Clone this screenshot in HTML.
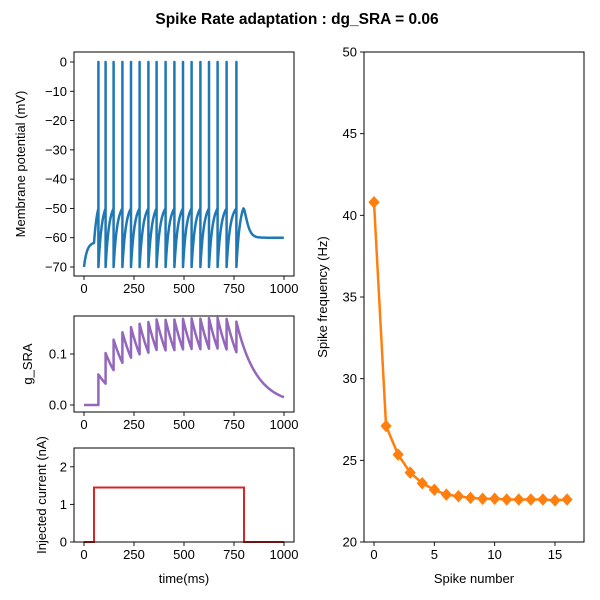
<!DOCTYPE html>
<html><head><meta charset="utf-8"><style>
html,body{margin:0;padding:0;background:#fff;}
svg{display:block;font-family:"Liberation Sans","DejaVu Sans",sans-serif;}
</style></head><body>
<svg id="fig" width="600" height="600" viewBox="0 0 600 600" xmlns="http://www.w3.org/2000/svg">
<rect width="600" height="600" fill="#fff"/>
<text x="297" y="24" text-anchor="middle" font-size="15.5" font-weight="bold">Spike Rate adaptation : dg_SRA = 0.06</text>
<g id="g1"></g>
<g id="g2"></g>
<g id="g3"></g>
<g id="g4"></g>
</svg>
<script>
// data
const spikeTimes = [72,108,148,192,235,278,322,363,408,452,495,538,582,625,668,713,762];
const currentOn = 50, currentOff = 800, currentAmp = 1.45;
const gIncrement = 0.06, gTau = 100;
const spikeNumbers = [0,1,2,3,4,5,6,7,8,9,10,11,12,13,14,15,16];
const spikeFreq = [40.8,27.1,25.35,24.25,23.6,23.2,22.9,22.8,22.7,22.65,22.65,22.6,22.6,22.6,22.6,22.55,22.6];
const xTicksTime = [0,250,500,750,1000];
const vTicks = [0,-10,-20,-30,-40,-50,-60,-70];
const gTicks = [0.0,0.1];
const iTicks = [0,1,2];
const fTicks = [20,25,30,35,40,45,50];
const nTicks = [0,5,10,15];

const NS="http://www.w3.org/2000/svg";
function el(parent,tag,attrs){const e=document.createElementNS(NS,tag);for(const k in attrs)e.setAttribute(k,attrs[k]);parent.appendChild(e);return e;}
function lin(d0,d1,r0,r1){return v=>r0+(v-d0)*(r1-r0)/(d1-d0);}

function axesFrame(g,x0,y0,x1,y1,name){
  const r=el(g,'rect',{x:x0,y:y0,width:x1-x0,height:y1-y0,fill:'none',stroke:'#000','stroke-width':1});
  
  
}
function xTicks(g,ticks,sx,yb,name,fmt){
  ticks.forEach(t=>{
    const x=sx(t);
    const l=el(g,'line',{x1:x,x2:x,y1:yb,y2:yb+4,stroke:'#000','stroke-width':0.9});
    
    
    const tx=el(g,'text',{x:x,y:yb+17,'text-anchor':'middle','font-size':13});
    tx.textContent=fmt?fmt(t):t;
    
    
  });
}
function yTicks(g,ticks,sy,xl,name,fmt){
  ticks.forEach(t=>{
    const y=sy(t);
    const l=el(g,'line',{x1:xl-4,x2:xl,y1:y,y2:y,stroke:'#000','stroke-width':0.9});
    
    
    const tx=el(g,'text',{x:xl-7,y:y+4.5,'text-anchor':'end','font-size':13});
    tx.textContent=fmt?fmt(t):String(t).replace('-','\u2212');
    
    
  });
}
function yTitle(g,text,x,y,name){
  const t=el(g,'text',{x:x,y:y,'text-anchor':'middle','font-size':13,transform:`rotate(-90 ${x} ${y})`});
  t.textContent=text;
  
  
}

// Panel 1: membrane potential
(function(){
  const g=document.getElementById('g1');
  const sx=lin(0,1000,84,284), sy=lin(0,-70,62,267);
  const pts=[];
  const tauR=18;
  for(let t=0;t<=currentOn;t+=2) pts.push([t,-70+8.5*(1-Math.exp(-t/15))]);
  let prev=currentOn, vStart=pts[pts.length-1][1];
  spikeTimes.forEach((ts,i)=>{
    const isi=ts-prev;
    for(let t=prev;t<=ts;t+=1){
      const f=(1-Math.exp(-(t-prev)/tauR))/(1-Math.exp(-isi/tauR));
      pts.push([t,vStart+(-50-vStart)*f]);
    }
    pts.push([ts,0]);pts.push([ts,-70]);
    prev=ts; vStart=-70;
  });
  const peakT=currentOff-3;
  for(let t=prev;t<=peakT;t+=1){
    const f=(1-Math.exp(-(t-prev)/tauR))/(1-Math.exp(-(peakT-prev)/tauR));
    pts.push([t,-70+20*f]);
  }
  for(let t=peakT;t<=1000;t+=2){
    const d=t-peakT;
    pts.push([t,-60+10*Math.exp(-d/12)*(1+d/12)]);
  }
  const p=el(g,'path',{d:pts.map((q,i)=>(i?'L':'M')+sx(q[0]).toFixed(2)+','+sy(q[1]).toFixed(2)).join(''),fill:'none',stroke:'#1f77b4','stroke-width':2.5,'stroke-linejoin':'round'});
  
  
  axesFrame(g,74,52,294,276,'membrane-potential');
  xTicks(g,xTicksTime,sx,276,'membrane-potential');
  yTicks(g,vTicks,sy,74,'membrane-potential');
  yTitle(g,'Membrane potential (mV)',25,164,'membrane-potential-y-title');
})();

// Panel 2: g_SRA
(function(){
  const g=document.getElementById('g2');
  const sx=lin(0,1000,84,284), sy=lin(0,0.1,405,354);
  const pts=[[0,0]];
  let gv=0, last=0;
  spikeTimes.forEach(ts=>{
    for(let t=last;t<=ts;t+=2) pts.push([t,gv*Math.exp(-(t-last)/gTau)]);
    gv=gv*Math.exp(-(ts-last)/gTau);
    pts.push([ts,gv]);
    gv+=gIncrement; pts.push([ts,gv]); last=ts;
  });
  for(let t=last;t<=1000;t+=2) pts.push([t,gv*Math.exp(-(t-last)/gTau)]);
  const p=el(g,'path',{d:pts.map((q,i)=>(i?'L':'M')+sx(q[0]).toFixed(2)+','+sy(q[1]).toFixed(2)).join(''),fill:'none',stroke:'#9467bd','stroke-width':2.5,'stroke-linejoin':'round'});
  
  
  axesFrame(g,74,316,294,412,'g-sra');
  xTicks(g,xTicksTime,sx,412,'g-sra');
  yTicks(g,gTicks,sy,74,'g-sra',v=>v.toFixed(1));
  yTitle(g,'g_SRA',32,364,'g-sra-y-title');
})();

// Panel 3: injected current
(function(){
  const g=document.getElementById('g3');
  const sx=lin(0,1000,84,284), sy=lin(0,2.5,542,448);
  const pts=[[0,0],[currentOn,0],[currentOn,currentAmp],[currentOff,currentAmp],[currentOff,0],[1000,0]];
  const p=el(g,'path',{d:pts.map((q,i)=>(i?'L':'M')+sx(q[0]).toFixed(2)+','+sy(q[1]).toFixed(2)).join(''),fill:'none',stroke:'#d62728','stroke-width':2});
  
  
  axesFrame(g,74,448,294,542,'injected-current');
  xTicks(g,xTicksTime,sx,542,'injected-current');
  yTicks(g,iTicks,sy,74,'injected-current');
  yTitle(g,'Injected current (nA)',46,495,'injected-current-y-title');
  const t=el(g,'text',{x:184,y:583,'text-anchor':'middle','font-size':13});
  t.textContent='time(ms)';
  
  
})();

// Panel 4: spike frequency
(function(){
  const g=document.getElementById('g4');
  const sx=lin(0,15,374,555), sy=lin(20,50,542,52);
  const p=el(g,'path',{d:spikeNumbers.map((n,i)=>(i?'L':'M')+sx(n).toFixed(2)+','+sy(spikeFreq[i]).toFixed(2)).join(''),fill:'none',stroke:'#ff7f0e','stroke-width':2.5});
  
  
  spikeNumbers.forEach((n,i)=>{
    const x=sx(n), y=sy(spikeFreq[i]), r=5.5;
    const m=el(g,'path',{d:`M${x},${y-r}L${x+r*0.9},${y}L${x},${y+r}L${x-r*0.9},${y}Z`,fill:'#ff7f0e',stroke:'#ff7f0e','stroke-width':1});
    
    
  });
  axesFrame(g,364,52,584,542,'spike-frequency');
  xTicks(g,nTicks,sx,542,'spike-frequency');
  yTicks(g,fTicks,sy,364,'spike-frequency');
  yTitle(g,'Spike frequency (Hz)',327,297,'spike-frequency-y-title');
  const t=el(g,'text',{x:474,y:583,'text-anchor':'middle','font-size':13});
  t.textContent='Spike number';
  
  
})();
</script>
</body></html>
